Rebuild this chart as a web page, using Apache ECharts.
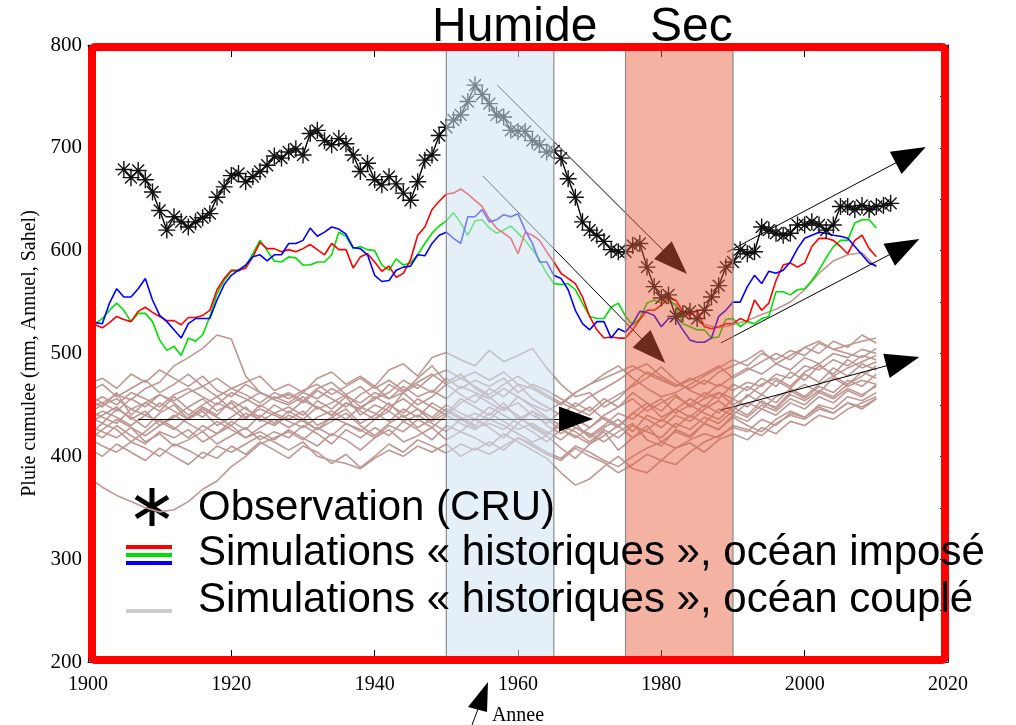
<!DOCTYPE html>
<html><head><meta charset="utf-8">
<script src="https://cdn.jsdelivr.net/npm/echarts@6/dist/echarts.min.js"></script>
<style>html,body{margin:0;padding:0;background:#fff}#c{width:1016px;height:725px}</style>
</head><body><div id="c"></div>
<script>
// ---------------- DATA ----------------
const xTickYears = [1900, 1920, 1940, 1960, 1980, 2000, 2020];
const yTickValues = [200, 300, 400, 500, 600, 700, 800];

// Observation (CRU), yearly from 1905
const obsStartYear = 1905;
const obsValues = [
  679,671,678,669,657,
  639,620,633,628,623,628,632,636,652,662,
  673,675,667,672,677,683,692,690,696,699,
  693,714,717,707,703,709,704,693,677,685,
  669,664,672,665,656,649,667,688,693,712,
  720,727,732,745,761,752,743,732,730,717,
  716,716,707,703,696,697,690,670,652,628,
  620,615,609,601,599,599,605,607,584,565,
  554,557,536,539,541,534,542,555,566,584,
  589,601,597,599,623,620,617,615,617,625,
  625,628,625,620,625,643,643,640,644,640,
  643,644,646
];

// Simulations "historiques", ocean impose: yearly from 1901
const simStartYear = 1901;
const simRed = [
  528,525,530,536,533,531,541,545,540,
  536,532,532,528,535,535,537,542,562,573,
  581,581,583,594,608,602,602,599,601,599,
  602,606,601,596,607,601,601,583,594,597,
  589,580,585,574,578,591,615,623,640,648,
  655,656,660,655,649,643,631,622,617,612,
  597,618,615,610,599,589,578,573,568,555,
  536,523,515,516,515,515,523,533,542,542,
  547,554,552,541,537,542,526,524,526,529,
  529,534,531,552,542,549,571,586,588,584,
  588,604,612,612,610,604,597,610,615,602,594
];
const simGreen = [
  529,534,542,549,542,531,539,539,531,
  513,503,507,498,515,512,518,536,558,571,
  580,580,585,597,610,600,590,589,594,593,
  586,586,589,589,596,618,614,602,604,601,
  600,586,581,592,586,588,596,607,617,624,
  629,637,627,615,629,630,622,617,620,624,
  617,610,601,591,578,568,567,568,562,549,
  536,534,534,545,549,536,528,534,549,552,
  549,552,547,529,526,523,523,515,516,533,
  534,526,531,529,534,536,560,560,557,562,
  563,571,581,593,604,610,610,627,630,630,622
];
const simBlue = [
  530,529,549,563,555,555,563,573,552,
  537,531,523,515,529,534,534,534,552,567,
  576,581,586,594,596,590,596,596,607,607,
  610,622,614,618,623,621,616,603,602,596,
  576,570,571,581,584,585,596,595,607,615,
  618,612,607,633,633,640,628,630,635,633,
  636,620,607,589,589,576,573,562,542,529,
  523,531,531,515,524,521,529,541,540,537,
  526,534,534,523,513,511,511,515,536,542,
  550,550,565,576,568,580,578,581,589,602,
  612,615,618,617,615,614,612,604,596,588,585
];

// one coupled member that climbs high at the end (every 2 years from 1980)
const coupledHighStart = 1980;
const coupledHighValues = [550,548,535,528,525,528,532,538,543,550,562,578,590,596,598,584];

// Simulations "historiques", ocean couple: members, every 2 years 1900..2010
const ensStartYear = 1900;
const ensStep = 2;
const ens01 = [448,452,460,455,466,472,488,496,505,518,514,478,462,455, 450,458,446,452,460,448,455,470,462,476,488,472,480,466, 458,446,452,440,432,444,436,428,440,448,456,444,452,460, 448,456,462,450,458,470,476,468,482,490,478,486,492,498];
const ens02 = [380,370,362,356,350,346,348,356,368,376,390,400,412,418, 424,416,428,420,432,426,418,430,424,436,428,440,432,426, 436,430,422,414,420,408,398,412,420,430,418,426,436,428, 440,432,446,440,452,446,458,464,456,468,462,474,468,480];
const ens03 = [462,470,458,466,474,462,470,480,468,476,466,472,478,464, 470,462,476,482,470,478,468,484,490,478,496,501,494,488, 503,492,498,505,486,470,458,462,448,456,470,482,476,468, 474,480,488,476,484,492,500,494,506,512,504,508,512,515];
const ens04 = [440,432,446,438,428,442,450,436,444,430,438,448,434,442, 436,444,430,438,446,432,440,452,438,446,434,442,456,448, 440,452,436,444,430,422,432,418,428,436,424,440,434,446, 438,450,442,456,448,460,452,466,458,470,478,470,482,476];
const ens05 = [430,424,418,428,414,422,410,416,424,412,420,428,416,424, 418,430,422,412,426,418,428,420,434,426,416,430,424,436, 428,418,432,424,414,426,420,412,424,406,418,430,414,424, 418,432,426,440,434,446,440,452,446,458,452,464,458,470];
const ens06 = [455,448,462,440,452,444,458,446,438,452,446,436,450,442, 448,440,454,446,458,440,450,444,462,450,458,470,460,452, 466,458,470,456,448,440,452,444,456,448,462,452,444,458, 450,462,456,470,464,476,468,482,474,488,480,494,486,492];
const ens07 = [420,432,426,414,424,436,428,418,430,422,434,426,440,432, 444,436,448,440,452,444,436,448,456,446,438,450,442,436, 448,440,432,444,436,426,418,428,438,430,442,436,428,440, 434,446,454,444,460,452,448,462,470,462,476,468,474,470];
const ens08 = [470,476,466,480,472,484,476,468,478,464,458,470,462,456, 462,454,466,472,460,468,456,462,474,466,478,484,476,482, 474,482,470,466,458,450,462,470,476,482,488,480,474,468, 476,470,482,488,494,503,490,498,506,500,512,506,518,510];
const ens09 = [408,400,412,404,396,408,400,392,404,398,410,402,414,406, 398,410,404,393,402,389,400,412,404,416,410,403,412,406, 414,406,418,410,402,396,408,400,394,384,392,402,396,408, 413,404,416,422,416,428,422,434,430,440,436,446,452,458];
const ens10 = [445,438,432,446,440,452,444,436,448,440,454,446,438,450, 442,454,448,440,452,446,458,450,442,456,448,440,452,460, 452,444,458,448,438,430,440,448,436,428,442,452,438,446, 456,448,462,456,468,460,474,466,480,472,486,478,490,484];
const ens11 = [432,440,448,436,444,430,438,448,456,444,452,438,446,440, 434,428,438,444,436,448,442,434,446,438,452,444,436,442, 436,448,440,428,420,434,428,420,430,442,436,448,456,442, 450,442,436,448,440,454,446,460,454,464,458,470,478,488];
const ens12 = [425,418,430,420,412,424,418,426,414,422,430,418,424,416, 426,418,410,422,416,406,418,426,414,420,428,416,424,418, 410,422,414,406,398,384,372,378,390,400,388,384,396,392, 404,414,420,428,424,436,430,442,438,450,446,458,454,462];
const ens13 = [460,452,444,456,448,460,452,440,450,458,446,454,462,456, 460,452,464,456,448,460,468,456,462,470,462,476,466,474, 468,476,462,470,464,456,448,458,466,474,484,490,478,470, 466,474,468,478,486,480,490,484,496,490,500,496,504,500];
const ens14 = [415,426,436,428,420,430,440,432,424,434,426,418,428,436, 428,436,426,434,442,430,420,432,440,428,436,446,438,430, 442,434,426,432,424,416,428,422,414,424,432,416,410,426, 420,432,426,438,430,424,436,444,438,448,442,452,446,456];
const ens15 = [450,458,450,462,456,448,460,466,458,450,462,456,448,458, 452,462,456,466,458,452,462,456,468,458,464,456,468,462, 456,466,458,450,444,452,446,440,452,460,468,476,487,474, 464,458,470,464,472,468,480,476,488,484,494,488,498,494];
const ens16 = [436,444,438,430,440,434,426,438,446,438,430,442,436,430, 440,434,426,438,432,424,436,444,434,440,432,424,436,428, 432,426,438,430,422,430,424,414,426,418,430,424,418,432, 426,438,432,444,438,450,444,456,450,462,456,466,460,468];
const ens17 = [418,410,404,414,408,400,412,406,398,410,404,412,420,414, 406,414,400,396,393,388,398,406,400,410,404,412,400,408, 402,410,418,412,404,398,410,404,396,390,400,408,414,408, 416,422,418,430,426,420,432,440,436,446,442,452,448,456];
const ens18 = [442,450,456,446,452,460,454,462,468,458,466,460,452,462, 456,464,470,460,468,476,466,474,464,472,480,470,476,468, 460,470,478,468,460,452,462,470,480,488,476,466,458,462, 470,478,486,494,488,500,494,503,498,510,504,500,496,505];
const ensembleMembers = [ens01,ens02,ens03,ens04,ens05,ens06,ens07,ens08,ens09,ens10,ens11,ens12,ens13,ens14,ens15,ens16,ens17,ens18];

// Highlighted periods
const periodNames = ['Humide', 'Sec'];
const periodFrom = [1950, 1975];
const periodTo = [1965, 1990];

// Trend arrows (annotation), [year, mm]
const arrowFrom = [[1957.1,761.1],[1955.1,672.6],[1989.2,598.7],[1988.3,510.2],[1988.3,445.0],[1907.0,436.3]];
const arrowTo   = [[1981.9,588.9],[1978.9,502.6],[2014.8,693.1],[2013.9,603.7],[2013.7,492.3],[1968.1,436.3]];

const legendLabels = ['Observation (CRU)', 'Simulations « historiques », océan imposé', 'Simulations « historiques », océan couplé'];

// ---------------- CHART ----------------
const pairs = (start, vals, step) => vals.map((v, i) => [start + i * step, v]);
const SERIF = '"Liberation Serif", "DejaVu Serif", serif';
const SANS = '"Liberation Sans", Arial, sans-serif';

const ensColor = '#c09792';
const series = [];
ensembleMembers.forEach((m, k) => {
  series.push({type:'line', name:'couple'+k, data: pairs(ensStartYear, m, ensStep), showSymbol:false, symbol:'none',
    lineStyle:{color: ensColor, width:1.6}, z:2, silent:true});
});
series.push({type:'line', name:'coupledHigh', data: pairs(coupledHighStart, coupledHighValues, 2), symbol:'none',
  lineStyle:{color: ensColor, width:1.6}, z:2, silent:true});
series.push({type:'line', name:'green', data: pairs(simStartYear, simGreen, 1), symbol:'none', lineStyle:{color:'#00e000', width:1.6}, z:3, silent:true});
series.push({type:'line', name:'red', data: pairs(simStartYear, simRed, 1), symbol:'none', lineStyle:{color:'#ff0000', width:1.6}, z:3, silent:true});
series.push({type:'line', name:'blue', data: pairs(simStartYear, simBlue, 1), symbol:'none', lineStyle:{color:'#0000ff', width:1.6}, z:3, silent:true});
series.push({type:'line', name:'obs', data: pairs(obsStartYear, obsValues, 1),
  symbol:'path://M5,0L5,10M0,5L10,5M1.5,1.5L8.5,8.5M1.5,8.5L8.5,1.5', symbolSize:17, showAllSymbol:true,
  itemStyle:{color:'#000', borderColor:'#111', borderWidth:1.4},
  lineStyle:{color:'#000', width:1.4}, z:4, silent:true});
// arrows (under the period overlays)
series.push({type:'line', name:'arrows', data:[], z:5, silent:true,
  markLine:{silent:true, animation:false, z:5, symbol:['none','triangle'], symbolSize:[25,34],
    label:{show:false}, itemStyle:{color:'#000'}, lineStyle:{color:'#000', width:1, type:'solid'},
    emphasis:{disabled:true},
    data: arrowFrom.map((f, i) => [{coord:f}, {coord:arrowTo[i]}])}});
// period bands (semi-transparent overlays on top of the curves)
const bandColors = ['rgba(205,226,242,0.55)', 'rgba(230,92,58,0.47)'];
series.push({type:'line', name:'bands', data:[], z:8, silent:true,
  markArea:{silent:true, animation:false, z:10, emphasis:{disabled:true},
    data: periodNames.map((n, i) => [
      {xAxis: periodFrom[i], yAxis: 200, itemStyle:{color: bandColors[i], borderColor:'#8c8c8c', borderWidth:1.2}},
      {xAxis: periodTo[i], yAxis: 800}])}});

const axisCommon = {type:'value', min:1900, max:2020, interval:20, splitLine:{show:false},
  axisLine:{show:true, onZero:false, lineStyle:{color:'#000', width:1}},
  axisTick:{show:true, inside:true, length:12, lineStyle:{color:'#000'}},
  minorTick:{show:true, splitNumber:2, length:6, lineStyle:{color:'#000'}}};

const option = {
  animation:false,
  backgroundColor:'#fff',
  grid:{left:88, top:45, width:860, height:617, containLabel:false, outerBoundsMode:'none'},
  xAxis:[
    Object.assign({}, axisCommon, {position:'bottom',
      axisLabel:{show:true, color:'#000', fontFamily:SERIF, fontSize:20, margin:13, formatter: v => String(v)},
      name:'Annee', nameLocation:'middle', nameGap:44,
      nameTextStyle:{color:'#000', fontFamily:SERIF, fontSize:20}}),
    Object.assign({}, axisCommon, {position:'top', axisLabel:{show:false}})
  ],
  yAxis:[
    {type:'value', min:200, max:800, interval:100, position:'left', splitLine:{show:false},
      axisLine:{show:true, onZero:false, lineStyle:{color:'#000'}},
      axisTick:{show:true, inside:true, length:8, lineStyle:{color:'#000'}},
      axisLabel:{color:'#000', fontFamily:SERIF, fontSize:21, margin:6, formatter: v => String(v)},
      name:'Pluie cumulee (mm, Annuel, Sahel)', nameLocation:'middle', nameGap:46, nameRotate:90,
      nameTextStyle:{color:'#000', fontFamily:SERIF, fontSize:20}},
    {type:'value', min:200, max:800, interval:50, position:'right', splitLine:{show:false},
      axisLine:{show:true, onZero:false, lineStyle:{color:'#000'}},
      axisTick:{show:true, inside:true, length:8, lineStyle:{color:'#000'}},
      axisLabel:{show:false}}
  ],
  series: series,
  graphic: [
    {type:'rect', z:100, shape:{x:92, y:47, width:853, height:613, r:3}, style:{fill:'none', stroke:'#ff0000', lineWidth:8}},
    {type:'text', z:100, x:432, y:28, style:{text: periodNames[0], font:'48px ' + SANS, fill:'#000', verticalAlign:'middle'}},
    {type:'text', z:100, x:650, y:28, style:{text: periodNames[1], font:'48px ' + SANS, fill:'#000', verticalAlign:'middle'}},
    // legend symbols
    {type:'group', z:100, x:152, y:507, children:[
      {type:'line', shape:{x1:0, y1:-19, x2:0, y2:19}, style:{stroke:'#000', lineWidth:5}},
      {type:'line', shape:{x1:-16, y1:-10, x2:16, y2:10}, style:{stroke:'#000', lineWidth:5}},
      {type:'line', shape:{x1:-16, y1:10, x2:16, y2:-10}, style:{stroke:'#000', lineWidth:5}}
    ]},
    {type:'rect', z:100, shape:{x:126, y:545, width:46, height:4}, style:{fill:'#ff0000'}},
    {type:'rect', z:100, shape:{x:126, y:553, width:46, height:4}, style:{fill:'#00e000'}},
    {type:'rect', z:100, shape:{x:126, y:561, width:46, height:4}, style:{fill:'#0000ff'}},
    {type:'rect', z:100, shape:{x:126, y:609, width:46, height:4}, style:{fill:'#cccccc'}},
    {type:'text', z:100, x:198, y:508, style:{text: legendLabels[0], font:'42px ' + SANS, fill:'#000', verticalAlign:'middle'}},
    {type:'text', z:100, x:198, y:553, style:{text: legendLabels[1], font:'42px ' + SANS, fill:'#000', verticalAlign:'middle'}},
    {type:'text', z:100, x:198, y:600, style:{text: legendLabels[2], font:'42px ' + SANS, fill:'#000', verticalAlign:'middle'}},
    // arrow pointing to the axis name
    {type:'polygon', z:100, shape:{points:[[488,682],[468,707],[487,712]]}, style:{fill:'#000'}},
    {type:'line', z:100, shape:{x1:478, y1:709, x2:472, y2:725}, style:{stroke:'#000', lineWidth:1}}
  ]
};
const chart = echarts.init(document.getElementById('c'));
chart.setOption(option);
</script>
</body></html>
